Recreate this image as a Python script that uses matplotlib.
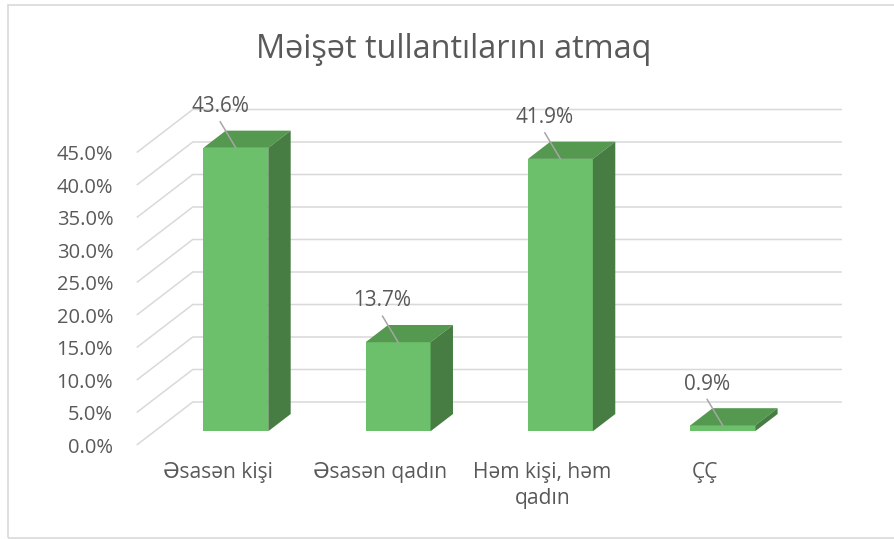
import matplotlib.pyplot as plt
from matplotlib.patches import Polygon, Rectangle

# data
categories = ['Əsasən kişi', 'Əsasən qadın', 'Həm kişi, həm\nqadın', 'ÇÇ']
values = [43.6, 13.7, 41.9, 0.9]
value_labels = ['43.6%', '13.7%', '41.9%', '0.9%']
ticks = [0, 5, 10, 15, 20, 25, 30, 35, 40, 45]
tick_labels = ['%.1f%%' % t for t in ticks]
title = 'Məişət tullantılarını atmaq'

plt.rcParams['font.family'] = ['Open Sans', 'DejaVu Sans']

W, H = 894, 539
fig = plt.figure(figsize=(W / 100, H / 100), dpi=100)
ax = fig.add_axes([0, 0, 1, 1])
ax.axis('off')

# layout: pixels per category unit / per percent, and where x=0,y=0 sit
px_cat = 162.3
px_pct = 6.5
x_zero_px = 217.9
y_zero_px = 445.0
x0 = -x_zero_px / px_cat
ax.set_xlim(x0, x0 + W / px_cat)
y0 = -(H - y_zero_px) / px_pct
ax.set_ylim(y0, y0 + H / px_pct)

# depth vector of the floor (front -> back) in data units
ddx = 56 / px_cat
ddy = 43 / px_pct
f_front, f_back = 0.32, 0.72
bw = 0.4
left, right = -0.5, 3.5

grid_c = '#D9D9D9'
text_c = '#595959'

# gridlines: diagonal on the side wall + horizontal on the back wall
for t in ticks:
    ax.plot([left, left + ddx, right + ddx], [t, t + ddy, t + ddy],
            color=grid_c, lw=1.1, zorder=1, solid_capstyle='butt')

tick_texts = []
for t, lab in zip(ticks, tick_labels):
    tick_texts.append(ax.text(left - 0.145, t - 1.2, lab, ha='right', va='baseline',
                              fontsize=14, color=text_c))

front_c = '#6CC06B'
top_c = '#55984F'
side_c = '#477D43'

label_texts = []
for i, v in enumerate(values):
    xl = i - bw / 2
    xr = i + bw / 2
    fx, fy = f_front * ddx, f_front * ddy
    bx, by = f_back * ddx, f_back * ddy
    front = Polygon([(xl + fx, fy), (xr + fx, fy), (xr + fx, v + fy), (xl + fx, v + fy)],
                    closed=True, facecolor=front_c, edgecolor='none', zorder=3)
    top = Polygon([(xl + fx, v + fy), (xr + fx, v + fy), (xr + bx, v + by), (xl + bx, v + by)],
                  closed=True, facecolor=top_c, edgecolor='none', zorder=3)
    side = Polygon([(xr + fx, fy), (xr + bx, by), (xr + bx, v + by), (xr + fx, v + fy)],
                   closed=True, facecolor=side_c, edgecolor='none', zorder=3)
    for p in (front, top, side):
        ax.add_patch(p)

    # data label with leader line
    cx, cy = i + fx, v + fy
    lx = cx - 0.096
    ax.plot([lx, cx], [cy + 4.0, cy], color='#A6A6A6', lw=1.1, zorder=4)
    label_texts.append(ax.text(lx, cy + 5.5, value_labels[i], ha='center', va='baseline',
                               fontsize=14, color=text_c, zorder=5))

# category labels, one text per line so every first baseline lines up
cat_texts = []
line_step = 4.0
for i, c in enumerate(categories):
    for k, line in enumerate(c.split('\n')):
        cat_texts.append(ax.text(i, -5.1 - k * line_step, line, ha='center',
                                 va='baseline', fontsize=14, color=text_c))

title_text = fig.text(453.5 / W, 1 - 58 / H, title, ha='center', va='baseline',
                      fontsize=20, color=text_c)

# size the fonts so the text widths match the reference
fig.canvas.draw()
rend = fig.canvas.get_renderer()


def fit(group, sample, target):
    w = sample.get_window_extent(rend).width
    fs = sample.get_fontsize() * target / w
    for t in group:
        t.set_fontsize(fs)


fit(tick_texts, tick_texts[-1], 56.7)
fit(label_texts, label_texts[0], 58.5)
fit(cat_texts, cat_texts[0], 110)
fit([title_text], title_text, 397)

# chart border
fig.patches.append(Rectangle((7.5 / W, 1.0 / H), 1.0, 1 - 6.0 / H,
                             transform=fig.transFigure, fill=False,
                             edgecolor=grid_c, lw=1.2))

fig.savefig('out.png', dpi=100)
